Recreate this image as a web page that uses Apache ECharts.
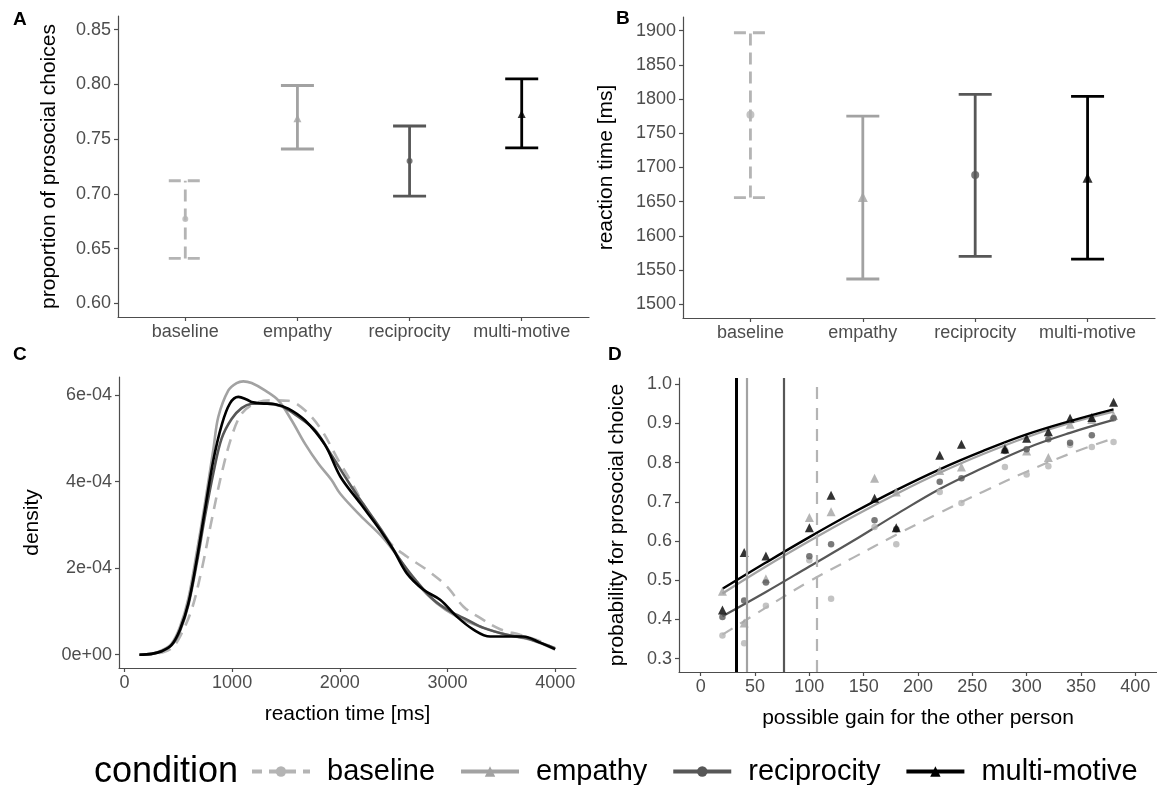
<!DOCTYPE html>
<html>
<head>
<meta charset="utf-8">
<script src="https://cdn.jsdelivr.net/npm/echarts@6/dist/echarts.min.js"></script>
<style>html,body{margin:0;padding:0;background:#fff}#c{width:1157px;height:785px}</style>
</head>
<body>
<div id="c"></div>
<script>
// ---------- data ----------
const categories = ['baseline', 'empathy', 'reciprocity', 'multi-motive'];
const catPos = [1, 2, 3, 4];

// Panel A: proportion of prosocial choices
const propMean = [0.677, 0.769, 0.730, 0.773];
const propLow  = [0.641, 0.741, 0.698, 0.742];
const propHigh = [0.712, 0.799, 0.762, 0.805];
const propTicks = [0.60, 0.65, 0.70, 0.75, 0.80, 0.85];

// Panel B: reaction time
const rtMean = [1777, 1657, 1689, 1685];
const rtLow  = [1656, 1537, 1570, 1566];
const rtHigh = [1897, 1775, 1807, 1804];
const rtTicks = [1500, 1550, 1600, 1650, 1700, 1750, 1800, 1850, 1900];

// Panel C: density of reaction times  [ms, density]
const densBaseline = [[140,0],[253,0.01e-4],[346,0.05e-4],[439,0.15e-4],[516,0.42e-4],[624,1.04e-4],[717,1.96e-4],[810,3.11e-4],[903,4.19e-4],[995,5.04e-4],[1088,5.57e-4],[1212,5.81e-4],[1367,5.88e-4],[1521,5.87e-4],[1676,5.65e-4],[1831,5.19e-4],[1985,4.5e-4],[2100,4.02e-4],[2250,3.35e-4],[2468,2.58e-4],[2622,2.27e-4],[2808,1.96e-4],[2993,1.58e-4],[3148,1.11e-4],[3302,0.85e-4],[3488,0.59e-4],[3673,0.46e-4],[3859,0.31e-4],[3998,0.13e-4]];
const densEmpathy = [[140,0],[253,0.02e-4],[346,0.1e-4],[439,0.26e-4],[516,0.64e-4],[594,1.3e-4],[671,2.35e-4],[748,3.5e-4],[826,4.75e-4],[872,5.5e-4],[965,6.11e-4],[1042,6.28e-4],[1104,6.32e-4],[1181,6.28e-4],[1305,6.11e-4],[1429,5.88e-4],[1552,5.42e-4],[1676,4.88e-4],[1800,4.42e-4],[1923,4.04e-4],[2004,3.72e-4],[2189,3.22e-4],[2405,2.69e-4],[2560,2.19e-4],[2715,1.65e-4],[2900,1.19e-4],[3086,0.88e-4],[3302,0.65e-4],[3550,0.46e-4],[3766,0.35e-4],[3998,0.12e-4]];
const densReciprocity = [[140,0],[253,0.02e-4],[346,0.08e-4],[439,0.22e-4],[516,0.55e-4],[594,1.15e-4],[671,2.1e-4],[748,3.2e-4],[826,4.2e-4],[903,5.0e-4],[995,5.45e-4],[1088,5.7e-4],[1181,5.8e-4],[1305,5.81e-4],[1459,5.74e-4],[1614,5.5e-4],[1769,5.19e-4],[1923,4.61e-4],[2078,4.0e-4],[2189,3.58e-4],[2405,2.81e-4],[2560,2.19e-4],[2715,1.69e-4],[2869,1.27e-4],[3024,1.0e-4],[3179,0.81e-4],[3333,0.62e-4],[3550,0.46e-4],[3735,0.38e-4],[3998,0.15e-4]];
const densMulti = [[140,0],[253,0.02e-4],[346,0.08e-4],[439,0.23e-4],[516,0.58e-4],[594,1.19e-4],[671,2.19e-4],[748,3.35e-4],[826,4.5e-4],[903,5.31e-4],[980,5.81e-4],[1058,5.96e-4],[1135,5.9e-4],[1181,5.84e-4],[1274,5.81e-4],[1398,5.79e-4],[1521,5.69e-4],[1676,5.42e-4],[1862,4.85e-4],[2004,4.12e-4],[2189,3.5e-4],[2375,2.88e-4],[2498,2.42e-4],[2622,1.88e-4],[2777,1.5e-4],[2931,1.27e-4],[3086,0.88e-4],[3240,0.58e-4],[3395,0.42e-4],[3550,0.42e-4],[3704,0.42e-4],[3859,0.28e-4],[3998,0.13e-4]];
const densTicks = [0, 2e-4, 4e-4, 6e-4];
const rtmsTicks = [0, 1000, 2000, 3000, 4000];

// Panel D: probability for prosocial choice
const gainX = [20, 40, 60, 100, 120, 160, 180, 220, 240, 280, 300, 320, 340, 360, 380];
const obsBaseline    = [0.359, 0.339, 0.435, 0.551, 0.453, 0.636, 0.592, 0.725, 0.697, 0.789, 0.770, 0.791, 0.845, 0.840, 0.853];
const obsEmpathy     = [0.472, 0.391, 0.504, 0.660, 0.675, 0.760, 0.725, 0.780, 0.789, 0.840, 0.830, 0.813, 0.898, 0.910, 0.920];
const obsReciprocity = [0.406, 0.448, 0.494, 0.561, 0.592, 0.653, 0.630, 0.751, 0.760, 0.830, 0.834, 0.860, 0.851, 0.870, 0.913];
const obsMulti       = [0.424, 0.571, 0.562, 0.634, 0.717, 0.709, 0.634, 0.819, 0.847, 0.835, 0.862, 0.879, 0.913, 0.915, 0.954];
const fitX = [20, 60, 100, 140, 180, 220, 260, 300, 340, 380];
const fitBaseline    = [0.361, 0.430, 0.497, 0.557, 0.616, 0.672, 0.726, 0.777, 0.823, 0.862];
const fitEmpathy     = [0.466, 0.535, 0.600, 0.662, 0.720, 0.774, 0.822, 0.865, 0.901, 0.930];
const fitReciprocity = [0.408, 0.470, 0.535, 0.600, 0.668, 0.733, 0.787, 0.837, 0.876, 0.909];
const fitMulti       = [0.478, 0.545, 0.610, 0.672, 0.730, 0.783, 0.830, 0.872, 0.906, 0.936];
const thresholds = [106.5, 42.4, 76.0, 32.4];
const probTicks = [0.3, 0.4, 0.5, 0.6, 0.7, 0.8, 0.9, 1.0];
const gainTicks = [0, 50, 100, 150, 200, 250, 300, 350, 400];

// ---------- styles ----------
const colors = ['#b4b4b4', '#a2a2a2', '#575757', '#000000'];
const symbols = ['circle', 'triangle', 'circle', 'triangle'];
const dashes = [[12, 7], null, null, null];
const FONT = 'Liberation Sans, Arial, sans-serif';
const axisGray = '#4d4d4d';

const dens = [densBaseline, densEmpathy, densReciprocity, densMulti];
const obs = [obsBaseline, obsEmpathy, obsReciprocity, obsMulti];
const fits = [fitBaseline, fitEmpathy, fitReciprocity, fitMulti];

function baseAxis(extra) {
  return Object.assign({
    axisLine: { show: true, onZero: false, lineStyle: { color: axisGray, width: 1.2 } },
    axisTick: { show: true, length: 4, lineStyle: { color: axisGray, width: 1.2 } },
    axisLabel: { color: axisGray, fontSize: 18, fontFamily: FONT },
    splitLine: { show: false },
    nameLocation: 'middle',
    nameTextStyle: { color: '#000', fontSize: 21, fontFamily: FONT }
  }, extra);
}
function withCustom(ax, ticks, fmt, margin) {
  ax.axisTick = Object.assign({}, ax.axisTick, { customValues: ticks });
  ax.axisLabel = Object.assign({}, ax.axisLabel, { customValues: ticks, formatter: fmt, margin: margin });
  return ax;
}
const catFmt = v => categories[Math.round(v) - 1];

const xAxes = [
  withCustom(baseAxis({ type: 'value', gridIndex: 0, min: 0.4, max: 4.6 }), catPos, catFmt, 6),
  withCustom(baseAxis({ type: 'value', gridIndex: 1, min: 0.4, max: 4.6 }), catPos, catFmt, 6),
  withCustom(baseAxis({ type: 'value', gridIndex: 2, min: -50, max: 4192, name: 'reaction time [ms]', nameGap: 36 }), rtmsTicks, v => String(v), 6),
  withCustom(baseAxis({ type: 'value', gridIndex: 3, min: -20, max: 420, name: 'possible gain for the other person', nameGap: 36 }), gainTicks, v => String(v), 6)
];
const yAxes = [
  withCustom(baseAxis({ type: 'value', gridIndex: 0, min: 0.5875, max: 0.8625, name: 'proportion of prosocial choices', nameGap: 58, nameRotate: 90 }), propTicks, v => v.toFixed(2), 7),
  withCustom(baseAxis({ type: 'value', gridIndex: 1, min: 1480, max: 1920, name: 'reaction time [ms]', nameGap: 66, nameRotate: 90 }), rtTicks, v => String(v), 7),
  withCustom(baseAxis({ type: 'value', gridIndex: 2, min: -0.307e-4, max: 6.42e-4, name: 'density', nameGap: 76, nameRotate: 90 }), densTicks, v => (Math.abs(v) < 1e-9 ? '0e+00' : Math.round(v * 1e4) + 'e-04'), 7),
  withCustom(baseAxis({ type: 'value', gridIndex: 3, min: 0.2658, max: 1.016, name: 'probability for prosocial choice', nameGap: 51, nameRotate: 90 }), probTicks, v => v.toFixed(1), 7)
];

function errorBarSeries(i, axisIdx, low, high, lw) {
  return {
    type: 'custom', name: categories[i], xAxisIndex: axisIdx, yAxisIndex: axisIdx,
    data: [[catPos[i], low[i], high[i]]],
    renderItem: function (params, api) {
      const x = api.value(0);
      const pLo = api.coord([x, api.value(1)]);
      const pHi = api.coord([x, api.value(2)]);
      const hw = 16.5;
      const st = { stroke: colors[i], lineWidth: lw, lineDash: dashes[i] || null, fill: null };
      return {
        type: 'group', children: [
          { type: 'line', shape: { x1: pLo[0], y1: pLo[1], x2: pHi[0], y2: pHi[1] }, style: st },
          { type: 'line', shape: { x1: pLo[0] - hw, y1: pLo[1], x2: pLo[0] + hw, y2: pLo[1] }, style: st },
          { type: 'line', shape: { x1: pHi[0] - hw, y1: pHi[1], x2: pHi[0] + hw, y2: pHi[1] }, style: st }
        ]
      };
    },
    z: 2
  };
}
function pointSeries(i, axisIdx, mean, sizes) {
  return {
    type: 'scatter', name: categories[i], xAxisIndex: axisIdx, yAxisIndex: axisIdx,
    data: [[catPos[i], mean[i]]],
    symbol: symbols[i], symbolSize: symbols[i] === 'circle' ? sizes[0] : sizes[1],
    itemStyle: { color: colors[i] }, z: 3
  };
}

const series = [];
// Panel C density curves (first, so they define legend icons)
[0, 1, 2, 3].forEach(i => {
  series.push({
    type: 'line', name: categories[i], xAxisIndex: 2, yAxisIndex: 2,
    data: dens[i], smooth: 0.35, symbol: symbols[i], showSymbol: false,
    lineStyle: { color: colors[i], width: 2.6, type: dashes[i] ? [12, 8] : 'solid' },
    itemStyle: { color: colors[i] }, z: 2 + i * 0.1
  });
});
categories.forEach((c, i) => series.push(errorBarSeries(i, 0, propLow, propHigh, 2.8)));
categories.forEach((c, i) => series.push(pointSeries(i, 0, propMean, [6, 8])));
categories.forEach((c, i) => series.push(errorBarSeries(i, 1, rtLow, rtHigh, 2.8)));
categories.forEach((c, i) => series.push(pointSeries(i, 1, rtMean, [8, 10])));
categories.forEach((c, i) => {
  series.push({
    type: 'line', name: c, xAxisIndex: 3, yAxisIndex: 3,
    data: fitX.map((x, j) => [x, fits[i][j]]), smooth: 0.4, showSymbol: false, symbol: symbols[i],
    lineStyle: { color: colors[i], width: i === 3 ? 2.4 : 2.2, type: dashes[i] ? [12, 9] : 'solid' },
    itemStyle: { color: colors[i] }, z: 3,
    markLine: {
      silent: true, symbol: 'none', label: { show: false }, animation: false,
      lineStyle: { color: colors[i], width: i === 3 ? 3 : 2.2, type: dashes[i] ? [12, 9] : 'solid' },
      data: [{ xAxis: thresholds[i] }]
    }
  });
});
categories.forEach((c, i) => {
  series.push({
    type: 'scatter', name: c, xAxisIndex: 3, yAxisIndex: 3,
    data: gainX.map((x, j) => [x, obs[i][j]]),
    symbol: symbols[i], symbolSize: symbols[i] === 'circle' ? 6.5 : 9,
    itemStyle: { color: colors[i] }, z: 4
  });
});

const panelLetter = (t, l, tp) => ({ text: t, left: l, top: tp, padding: 0,
  textStyle: { fontSize: 19, fontWeight: 'bold', fontFamily: FONT, color: '#000' } });

const option = {
  animation: false,
  backgroundColor: '#fff',
  title: [panelLetter('A', 13, 10), panelLetter('B', 616, 9), panelLetter('C', 13, 345), panelLetter('D', 608, 345)],
  grid: [
    { left: 118, top: 16, width: 471, height: 301 },
    { left: 683, top: 17, width: 472, height: 301 },
    { left: 119, top: 377, width: 457, height: 291 },
    { left: 679, top: 378, width: 484, height: 294 }
  ],
  xAxis: xAxes,
  yAxis: yAxes,
  legend: {
    left: 250, top: 757, orient: 'horizontal', padding: 0,
    itemWidth: 58, itemHeight: 13, itemGap: 24,
    selectedMode: false,
    textStyle: { fontSize: 29, fontFamily: FONT, color: '#000', padding: [0, 0, 0, 12] },
    data: categories.map((c, i) => ({
      name: c,
      lineStyle: { width: 4, color: colors[i], type: dashes[i] ? [10, 7] : 'solid' },
      itemStyle: { color: colors[i] }
    }))
  },
  graphic: [{
    type: 'text', left: 94, top: 754,
    style: { text: 'condition', fontSize: 36, fontFamily: FONT, fill: '#000' }
  }],
  series: series
};

const chart = echarts.init(document.getElementById('c'), null, { renderer: 'canvas' });
chart.setOption(option);
</script>
</body>
</html>
